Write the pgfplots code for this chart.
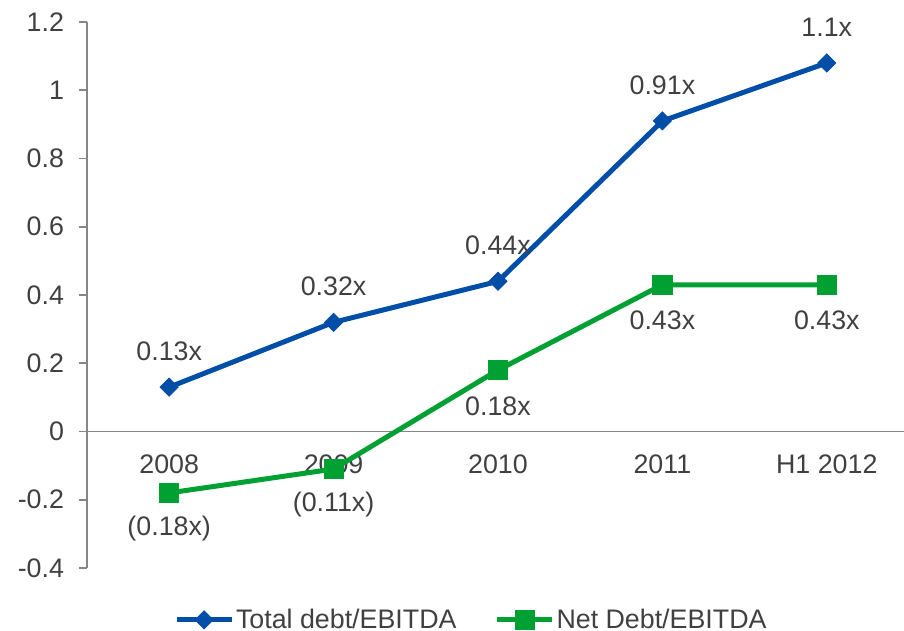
\documentclass[border=0pt]{standalone}
\usepackage{pgfplots}
\pgfplotsset{compat=1.18}
\usepackage{fontspec}
\setmainfont{Liberation Sans}
\definecolor{cblue}{RGB}{0,78,168}
\definecolor{cgreen}{RGB}{0,160,50}
\definecolor{ctext}{RGB}{64,64,64}
\definecolor{caxis}{RGB}{134,134,134}
\newcommand{\lfont}{\fontsize{13.4}{16}\selectfont}
\begin{document}
\begin{tikzpicture}
\begin{axis}[
  scale only axis,
  width=411pt, height=273pt,
  xmin=-0.5, xmax=4.5,
  ymin=-0.4, ymax=1.2,
  axis y line=left,
  axis x line=middle,
  axis line style={-, draw=caxis, line width=0.9pt},
  every tick/.style={draw=caxis, line width=0.9pt},
  ytick={-0.4,-0.2,0,0.2,0.4,0.6,0.8,1,1.2},
  y tick label style={/pgf/number format/fixed, /pgf/number format/precision=1, xshift=-4pt},
  xtick={0,1,2,3,4},
  xticklabels={2008,2009,2010,2011,H1 2012},
  x tick label style={anchor=center, yshift=-12.5pt},
  major x tick style={draw=none},
  extra x ticks={0.5,1.5,2.5,3.5},
  extra x tick labels={},
  extra x tick style={tick align=outside, major tick length=4pt},
  tick align=outside,
  major tick length=4pt,
  ytick pos=left,
  /pgf/number format/assume math mode=true,
  font=\lfont,
  tick label style={font=\lfont, text=ctext},
  nodes near coords,
  point meta=explicit symbolic,
  clip=false,
  legend columns=2,
  legend style={at={(0.4675,-0.095)}, anchor=center, draw=none, fill=none,
    font=\lfont, text=ctext,
    /tikz/every even column/.append style={column sep=18pt},
    inner sep=0pt, nodes={inner sep=1pt}},
  legend image code/.code={%
    \draw[mark repeat=2,mark phase=2] plot coordinates {(0pt,0pt) (13.75pt,0pt) (27.5pt,0pt)};},
]
\addplot[color=cblue, line width=2.5pt, mark=square*, mark size=3.2pt,
  mark options={rotate=45, solid, line width=0.4pt},
  nodes near coords style={anchor=center, yshift=18pt, text=ctext, font=\lfont}]
  coordinates {(0,0.13) [0.13x] (1,0.32) [0.32x] (2,0.44) [0.44x] (3,0.91) [0.91x] (4,1.08) [1.1x]};
\addlegendentry{Total debt/EBITDA}
\addplot[color=cgreen, line width=2.5pt, mark=square*, mark size=4.8pt,
  mark options={solid, line width=0.4pt},
  nodes near coords style={anchor=center, yshift=-18pt, text=ctext, font=\lfont}]
  coordinates {(0,-0.18) [(0.18x)] (1,-0.11) [(0.11x)] (2,0.18) [0.18x] (3,0.43) [0.43x] (4,0.43) [0.43x]};
\addlegendentry{Net Debt/EBITDA}
\end{axis}
\pgfresetboundingbox
\path[use as bounding box] (-43.5pt,-31.5pt) rectangle (408.5pt,284pt);
\end{tikzpicture}
\end{document}
